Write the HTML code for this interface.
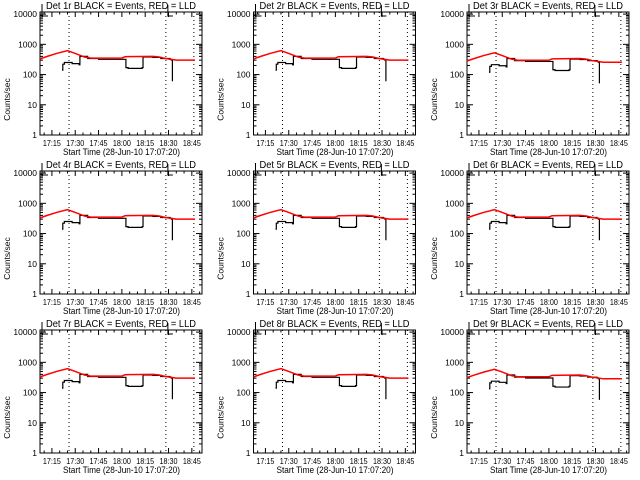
<!DOCTYPE html>
<html><head><meta charset="utf-8"><style>
html,body{margin:0;padding:0;background:#fff;}
svg{display:block;font-family:"Liberation Sans",sans-serif;}
</style></head><body>
<svg id="chart" width="640" height="480" viewBox="0 0 640 480"></svg>
<script>
// data: time in minutes after 17:00, values in counts/sec
const detectors = ["1r","2r","3r","4r","5r","6r","7r","8r","9r"];
const detScale = [1.0,1.0,0.85,1.0,1.0,1.0,1.0,1.0,0.95];
const redTimes = [7.3,12,18,25,30,36,40,60,62,80,84,88,95,107];
const redValues = [330,400,500,620,500,380,350,350,390,400,380,340,300,300];
const blackTimes = [21.5,22,23,28,32.5,33,38,45,62,62.6,64,73,73.6,80,85,91,91.8,92.5];
const blackValues = [140,220,250,230,210,400,340,320,320,170,160,170,380,370,340,320,300,60];
const dottedTimes = [26,88.3,106.3];
const xTickMinutes = [15,30,45,60,75,90,105];
const xTickLabels = ["17:15","17:30","17:45","18:00","18:15","18:30","18:45"];
const yTickValues = [1,10,100,1000,10000];
const yTickLabels = ["1","10","100","1000","10000"];

const NS="http://www.w3.org/2000/svg";
const svg=document.getElementById('chart');
function mk(tag,attrs,parent){const e=document.createElementNS(NS,tag);for(const k in attrs)e.setAttribute(k,attrs[k]);parent.appendChild(e);return e;}
const colX=[40,253.5,467], rowY=[12,171,330];
const W=162, H=123;
detectors.forEach((d,i)=>{
  const ox=colX[i%3], oy=rowY[Math.floor(i/3)];
  const g=mk('g',{},svg);
  
  
  const xs=m=>ox+(m-7.333)*(W/104.2);
  const ys=v=>oy+H-H*Math.log10(v)/4.07;
  const box=mk('rect',{x:ox,y:oy,width:W,height:H,fill:'none',stroke:'#000','stroke-width':1},g);
  
  
  for(let m=10;m<=110;m+=5){
    const x=xs(m); if(x>ox+W) break;
    const major=(m%15===0);
    const L=major?5:2.5;
    mk('line',{x1:x,x2:x,y1:oy+H,y2:oy+H-L,stroke:'#000'},g);
    mk('line',{x1:x,x2:x,y1:oy,y2:oy+L,stroke:'#000'},g);
  }
  xTickMinutes.forEach((m,j)=>{
    const t=mk('text',{x:xs(m)-9,y:oy+H+11,'font-size':8.5,textLength:18,lengthAdjust:'spacingAndGlyphs'},g);
    t.textContent=xTickLabels[j];
    
    
  });
  yTickValues.forEach((v,j)=>{
    const y=ys(v);
    mk('line',{x1:ox,x2:ox+6,y1:y,y2:y,stroke:'#000'},g);
    mk('line',{x1:ox+W,x2:ox+W-6,y1:y,y2:y,stroke:'#000'},g);
    const t=mk('text',{x:ox-3,y:y+3,'font-size':8.5,'text-anchor':'end'},g);
    t.textContent=yTickLabels[j];
    
    
    if(j<4){for(let k=2;k<10;k++){const yy=ys(v*k);if(yy<oy)break;
      mk('line',{x1:ox,x2:ox+3,y1:yy,y2:yy,stroke:'#000'},g);
      mk('line',{x1:ox+W,x2:ox+W-3,y1:yy,y2:yy,stroke:'#000'},g);}}
  });
  const tt=mk('text',{x:ox+W/2-75,y:oy-3,'font-size':10.5,textLength:150,lengthAdjust:'spacingAndGlyphs'},g);
  tt.textContent='Det '+d+' BLACK = Events, RED = LLD';
  
  
  const xt=mk('text',{x:ox+W/2-58,y:oy+H+20,'font-size':9.5,textLength:117,lengthAdjust:'spacingAndGlyphs'},g);
  xt.textContent='Start Time (28-Jun-10 17:07:20)';
  
  
  const yt=mk('text',{x:0,y:0,'font-size':8.5,'text-anchor':'middle',transform:`translate(${ox-30},${oy+H/2+26}) rotate(-90)`},g);
  yt.textContent='Counts/sec';
  
  
  dottedTimes.forEach(m=>{
    const l=mk('line',{x1:xs(m),x2:xs(m),y1:oy,y2:oy+H,stroke:'#000','stroke-dasharray':'1,3'},g);
    
    
  });
  mk('path',{d:`M${ox+8},${oy+4} H${ox+2} V${oy-8} M${xs(88.3)+2},${oy-7} V${oy+4} H${xs(88.3)+7}`,fill:'none',stroke:'#000'},g);
  function stepPath(ts,vs,s){let p='';ts.forEach((t,k)=>{const x=xs(t),y=ys(vs[k]*s);if(k===0)p+=`M${x},${y}`;else p+=` H${x} V${y}`;});return p;}
  const blk=mk('path',{d:stepPath(blackTimes,blackValues,detScale[i]),fill:'none',stroke:'#000','stroke-width':1.2},g);
  
  
  let rp='';redTimes.forEach((t,k)=>{rp+=(k?' L':'M')+xs(t)+','+ys(redValues[k]*detScale[i]);});
  const red=mk('path',{d:rp,fill:'none',stroke:'#f00','stroke-width':1.5},g);
  
  
});
</script>
</body></html>
